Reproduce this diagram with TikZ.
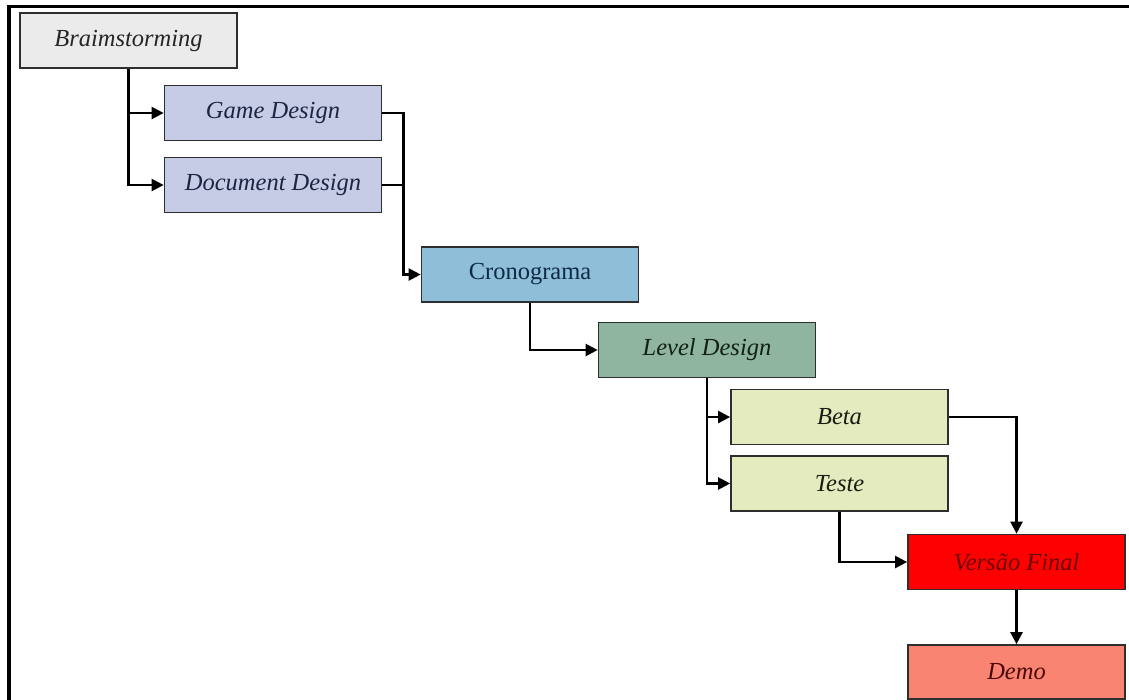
\documentclass[tikz,border=0pt]{standalone}
\usepackage{fontspec}
\setmainfont{Liberation Serif}
\usetikzlibrary{arrows.meta}
\definecolor{cgray}{HTML}{EBEBEB}
\definecolor{clav}{HTML}{C6CBE6}
\definecolor{cblue}{HTML}{8FBFD8}
\definecolor{cgreen}{HTML}{8FB4A0}
\definecolor{cyel}{HTML}{E4EBBF}
\definecolor{cred}{HTML}{FF0000}
\definecolor{csalmon}{HTML}{F98471}
\definecolor{tnavy}{HTML}{1B2640}
\definecolor{tblue}{HTML}{0E2A48}
\definecolor{tgreen}{HTML}{122016}
\definecolor{tolive}{HTML}{1C1C10}
\definecolor{tmaroon}{HTML}{6A0505}
\definecolor{tbrown}{HTML}{4A0A0A}
\definecolor{border}{HTML}{2E2E2E}
\tikzset{
  box/.style={draw=border, line width=1.7pt, rectangle, minimum width=217pt, minimum height=55pt, inner sep=0pt,
    font=\fontsize{24.5}{28}\selectfont\itshape},
  conn/.style={line width=2.3pt, draw=black},
  arr/.style={conn, -{Triangle[length=12pt,width=12pt]}},
}
\begin{document}
\begin{tikzpicture}[x=1pt,y=-1pt]
\useasboundingbox (0,0) rectangle (1129,699);
\draw[line width=3.5pt, line cap=rect] (9,699) -- (9,6.5) -- (1129,6.5);
\node[box, fill=cgray, text=black!85] (brain) at (128.5,40.5) {Braimstorming};
\node[box, fill=clav, text=tnavy] (gd) at (273,113) {Game Design};
\node[box, fill=clav, text=tnavy] (dd) at (273,185) {Document Design};
\node[box, fill=cblue, text=tblue, font=\fontsize{24.5}{28}\selectfont\upshape] (cron) at (530,274.5) {Cronograma};
\node[box, fill=cgreen, text=tgreen] (level) at (707,350) {Level Design};
\node[box, fill=cyel, text=tolive] (beta) at (839.5,417) {Beta};
\node[box, fill=cyel, text=tolive] (teste) at (839.5,483.5) {Teste};
\node[box, fill=cred, text=tmaroon] (vf) at (1016.5,562) {Versão Final};
\node[box, fill=csalmon, text=tbrown, minimum height=54pt] (demo) at (1016.5,672) {Demo};
\draw[arr] (brain.south) |- (gd.west);
\draw[arr] (brain.south) |- (dd.west);
\draw[conn] (dd.east) -- ++(21,0);
\draw[arr] (gd.east) -- ++(21,0) |- (cron.west);
\draw[arr] (cron.south) |- (level.west);
\draw[arr] (level.south) |- (beta.west);
\draw[arr] (level.south) |- (teste.west);
\draw[arr] (beta.east) -| (vf.north);
\draw[arr] (teste.south) |- (vf.west);
\draw[arr] (vf.south) -- (demo.north);
\end{tikzpicture}
\end{document}
